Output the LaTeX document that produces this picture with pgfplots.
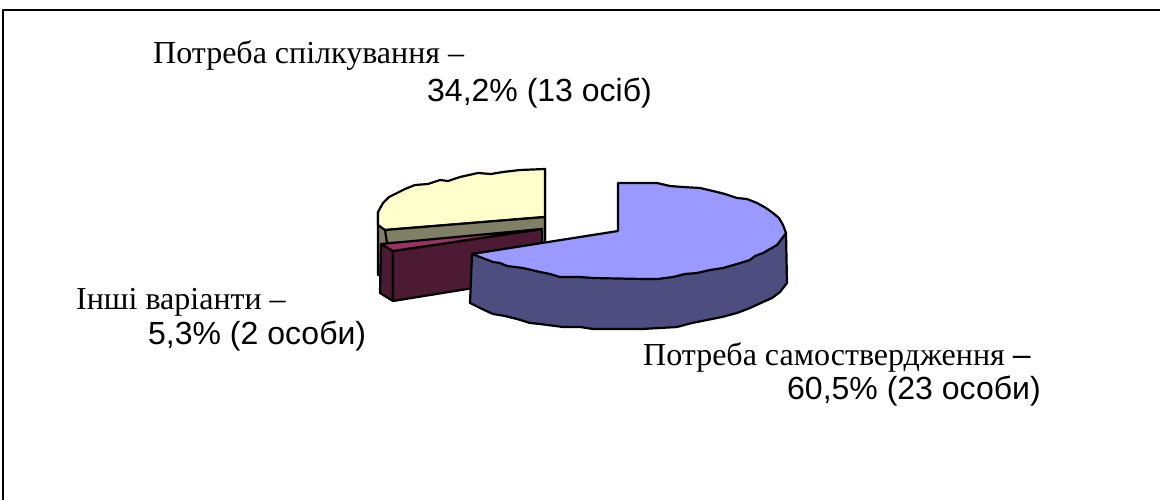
\documentclass[border=0pt]{standalone}
\usepackage{pgfplots}
\pgfplotsset{compat=1.18}
\usepackage{fontspec}
\setmainfont{Liberation Serif}
\newfontfamily\lsans{Liberation Sans}
\definecolor{bluetop}{HTML}{9999FF}
\definecolor{blueside}{HTML}{4D4D80}
\definecolor{yeltop}{HTML}{FFFFCC}
\definecolor{yelside}{HTML}{808066}
\definecolor{martop}{HTML}{993366}
\definecolor{marside}{HTML}{4D1A33}
\begin{document}
\begin{tikzpicture}
\begin{axis}[
  at={(0,0)}, anchor=south west,
  x=1pt, y=1pt,
  scale only axis,
  width=1160pt, height=500pt,
  xmin=0, xmax=1160, ymin=0, ymax=500,
  y dir=reverse,
  hide axis,
  clip=false,
  every axis plot/.append style={line join=round, line width=2.2pt, draw=black},
]
\path[use as bounding box] (axis cs:0,0) rectangle (axis cs:1160,500);
% chart frame
\addplot[draw=black, line width=1.3pt, no marks] coordinates {(3,500) (3,10) (1160,10)};
% yellow slice: side
\addplot[fill=yelside] coordinates {(378,212) (378,275) (392,275) (392,240) (545,243) (545,169) (378,212)} -- cycle;
% yellow slice: top
\addplot[fill=yeltop] coordinates {(545,169) (520,170) (503,172) (491,174) (478,173) (460,177) (448,181) (440,180) (428,184) (415,185) (405,189) (397,193) (389,197) (383,203) (378,212) (378,225) (385,230) (545,217)} -- cycle;
% olive front of yellow slice
\addplot[fill=yelside] coordinates {(385,230) (545,217) (545,243) (387,243)} -- cycle;
% maroon slice
\addplot[fill=marside] coordinates {(381,244) (380,293) (393,301) (393,251)} -- cycle;
\addplot[fill=marside] coordinates {(393,251) (393,301) (542,277) (542,229)} -- cycle;
\addplot[fill=martop] coordinates {(381,244) (393,251) (542,229)} -- cycle;
% blue slice: side
\addplot[fill=blueside] coordinates {(472,254) (470,303) (482,309) (493,314) (505,316) (517,319) (530,323) (540,324) (563,327) (580,327) (593,329) (642,329) (660,328) (677,327) (692,323) (707,320) (722,317) (737,313) (750,308) (763,302) (772,298) (780,292) (787,283) (786,233)} -- cycle;
% blue slice: top
\addplot[fill=bluetop] coordinates {(618,231) (618,183) (657,183) (670,186) (683,187) (700,188) (713,191) (725,194) (737,198) (747,199) (757,203) (766,208) (773,213) (779,218) (783,225) (786,233) (777,245) (763,253) (755,256) (750,260) (737,264) (723,268) (710,270) (697,273) (685,274) (673,277) (658,279) (643,279) (593,278) (580,277) (560,277) (550,274) (540,272) (523,268) (507,266) (500,263) (493,262) (472,254)} -- cycle;
% labels
\node[anchor=base west, inner sep=0pt, font=\fontsize{32}{36}\selectfont] at (axis cs:153,64) {Потреба спілкування –};
\node[anchor=base west, inner sep=0pt, font=\fontsize{32}{36}\selectfont\lsans] at (axis cs:427,102) {34,2\% (13 осіб)};
\node[anchor=base west, inner sep=0pt, font=\fontsize{32}{36}\selectfont] at (axis cs:76,309) {Інші варіанти –};
\node[anchor=base west, inner sep=0pt, font=\fontsize{32}{36}\selectfont\lsans] at (axis cs:148,344) {5,3\% (2 особи)};
\node[anchor=base west, inner sep=0pt, font=\fontsize{32}{36}\selectfont] at (axis cs:643,365) {Потреба самоствердження {\lsans –}};
\node[anchor=base west, inner sep=0pt, font=\fontsize{32}{36}\selectfont\lsans] at (axis cs:787,399) {60,5\% (23 особи)};
\end{axis}
\end{tikzpicture}
\end{document}
